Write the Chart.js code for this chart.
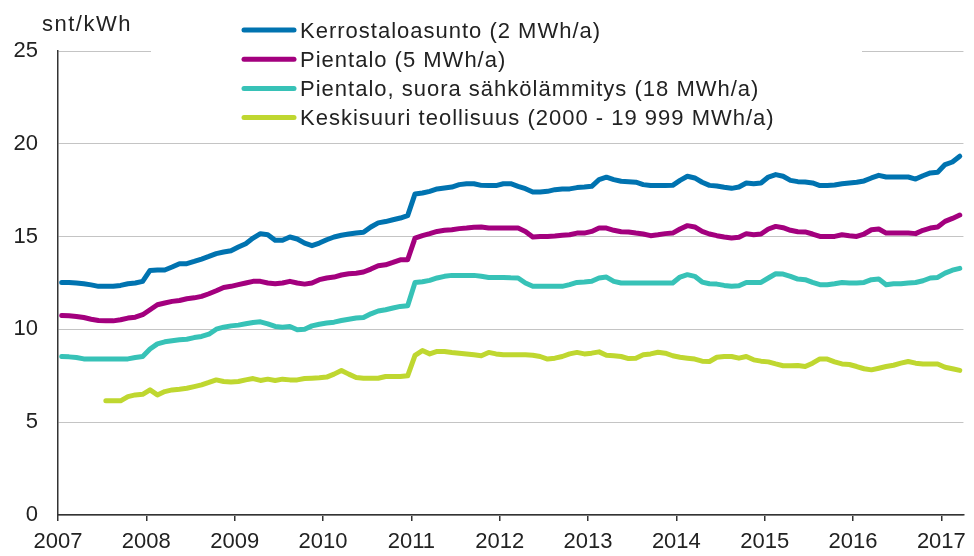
<!DOCTYPE html>
<html>
<head>
<meta charset="utf-8">
<script src="https://cdn.jsdelivr.net/npm/chart.js@4"></script>
<style>
  html, body { margin: 0; padding: 0; background: #fff; }
  #wrap { width: 974px; height: 556px; position: relative; }
</style>
</head>
<body>
<div id="wrap"><canvas id="c" width="974" height="556"></canvas></div>
<script>
// ---- data ----
const unitLabel = 'snt/kWh';
const years = ['2007','2008','2009','2010','2011','2012','2013','2014','2015','2016','2017'];
const seriesNames = [
  'Kerrostaloasunto (2 MWh/a)',
  'Pientalo (5 MWh/a)',
  'Pientalo, suora sähkölämmitys (18 MWh/a)',
  'Keskisuuri teollisuus (2000 - 19 999 MWh/a)'
];
const seriesColors = ['#0073b0', '#a3007e', '#37c2b7', '#bfd730'];

// monthly categories 2007M01 ... 2017M03
const months = [];
for (let y = 2007; y <= 2017; y++) {
  for (let m = 1; m <= 12; m++) {
    if (y === 2017 && m > 3) break;
    months.push(y + 'M' + String(m).padStart(2, '0'));
  }
}

const kerrostalo = [
  12.53,12.53,12.5,12.46,12.4,12.32,12.32,12.32,12.37,12.46,12.5,12.59,
  13.18,13.2,13.2,13.36,13.54,13.54,13.66,13.79,13.93,14.08,14.17,14.24,
  14.44,14.62,14.92,15.16,15.1,14.8,14.8,14.98,14.87,14.65,14.51,14.65,
  14.83,14.98,15.07,15.14,15.19,15.23,15.52,15.74,15.81,15.91,16.0,16.13,
  17.3,17.35,17.44,17.57,17.62,17.67,17.8,17.85,17.85,17.76,17.75,17.75,
  17.85,17.85,17.71,17.58,17.4,17.4,17.44,17.53,17.57,17.57,17.64,17.67,
  17.71,18.07,18.2,18.07,17.98,17.96,17.93,17.8,17.75,17.75,17.75,17.76,
  18.03,18.25,18.16,17.93,17.76,17.73,17.66,17.6,17.67,17.89,17.85,17.89,
  18.21,18.34,18.25,18.03,17.96,17.94,17.89,17.75,17.75,17.78,17.85,17.89,
  17.93,18.0,18.16,18.3,18.21,18.21,18.21,18.21,18.1,18.28,18.43,18.47,
  18.88,19.02,19.33
];
const pientalo = [
  10.75,10.73,10.7,10.64,10.55,10.48,10.46,10.46,10.52,10.61,10.66,10.79,
  11.06,11.33,11.42,11.51,11.56,11.65,11.7,11.78,11.92,12.08,12.26,12.32,
  12.41,12.5,12.59,12.59,12.5,12.46,12.5,12.59,12.5,12.44,12.5,12.68,
  12.77,12.82,12.93,13.0,13.03,13.09,13.25,13.43,13.48,13.61,13.75,13.75,
  14.92,15.05,15.16,15.28,15.34,15.37,15.43,15.46,15.5,15.52,15.46,15.46,
  15.46,15.46,15.46,15.28,14.98,15.01,15.01,15.03,15.07,15.1,15.19,15.19,
  15.28,15.46,15.46,15.34,15.26,15.25,15.19,15.14,15.05,15.1,15.16,15.19,
  15.41,15.59,15.52,15.28,15.14,15.05,14.98,14.92,14.96,15.16,15.1,15.14,
  15.41,15.55,15.48,15.34,15.26,15.25,15.14,15.01,15.01,15.01,15.1,15.05,
  15.01,15.14,15.37,15.41,15.19,15.19,15.19,15.19,15.16,15.34,15.46,15.52,
  15.82,15.98,16.16
];
const sahkolammitys = [
  8.54,8.52,8.49,8.41,8.4,8.4,8.4,8.4,8.4,8.41,8.49,8.54,
  8.94,9.22,9.33,9.39,9.44,9.47,9.56,9.62,9.74,10.01,10.12,10.19,
  10.23,10.3,10.37,10.41,10.3,10.16,10.12,10.16,9.98,10.01,10.19,10.28,
  10.34,10.39,10.48,10.55,10.61,10.64,10.84,10.99,11.06,11.15,11.24,11.27,
  12.53,12.57,12.64,12.77,12.86,12.91,12.91,12.91,12.91,12.86,12.8,12.8,
  12.8,12.78,12.77,12.5,12.32,12.32,12.32,12.32,12.32,12.41,12.53,12.55,
  12.59,12.77,12.82,12.59,12.5,12.5,12.5,12.5,12.5,12.5,12.5,12.5,
  12.82,12.95,12.86,12.55,12.46,12.44,12.37,12.32,12.35,12.53,12.53,12.53,
  12.77,13.0,12.98,12.86,12.71,12.68,12.53,12.41,12.41,12.46,12.53,12.5,
  12.5,12.53,12.68,12.71,12.41,12.46,12.46,12.5,12.53,12.62,12.77,12.8,
  13.03,13.19,13.29
];
const teollisuus = [
  null,null,null,null,null,null,6.15,6.15,6.15,6.38,6.47,6.5,
  6.74,6.47,6.65,6.74,6.78,6.83,6.92,7.01,7.14,7.28,7.19,7.16,
  7.19,7.28,7.35,7.25,7.32,7.25,7.32,7.28,7.28,7.35,7.37,7.39,
  7.43,7.59,7.79,7.59,7.41,7.37,7.37,7.37,7.46,7.46,7.46,7.5,
  8.6,8.86,8.68,8.81,8.81,8.76,8.72,8.68,8.63,8.58,8.76,8.68,
  8.63,8.63,8.63,8.63,8.61,8.54,8.4,8.45,8.54,8.68,8.76,8.68,
  8.72,8.79,8.61,8.58,8.54,8.43,8.45,8.63,8.68,8.77,8.72,8.58,
  8.5,8.45,8.4,8.29,8.27,8.5,8.54,8.54,8.45,8.54,8.36,8.29,
  8.25,8.14,8.04,8.04,8.05,8.0,8.18,8.41,8.4,8.25,8.14,8.11,
  8.0,7.88,7.82,7.91,8.0,8.07,8.18,8.27,8.18,8.14,8.14,8.14,
  7.96,7.88,7.79
];
const yTicks = [0, 5, 10, 15, 20, 25];

// ---- chart ----
const FONT = '"Liberation Sans", Arial, Helvetica, sans-serif';
Chart.defaults.font.family = FONT;
Chart.defaults.color = '#222';

const allSeries = [kerrostalo, pientalo, sahkolammitys, teollisuus];
// each monthly value is placed in the middle of its month slot
const datasets = allSeries.map((vals, i) => ({
  label: seriesNames[i],
  data: months.map((m, j) => ({ x: j + 0.5, y: vals[j] })),
  borderColor: seriesColors[i],
  backgroundColor: seriesColors[i],
  borderWidth: 5,
  pointRadius: 0,
  tension: 0,
  borderCapStyle: 'round',
  borderJoinStyle: 'round',
  spanGaps: false,
  order: 4 - i
}));

const overlay = {
  id: 'overlay',
  afterDraw(chart) {
    const ctx = chart.ctx;
    ctx.save();
    // legend box (white) hides the top gridline behind it
    ctx.fillStyle = '#fff';
    ctx.fillRect(151, 8, 711, 128);
    ctx.fillStyle = '#222';
    ctx.font = '22px ' + FONT;
    ctx.textBaseline = 'alphabetic';
    ctx.textAlign = 'left';
    try { ctx.letterSpacing = '1.5px'; } catch (e) {}
    ctx.fillText(unitLabel, 42, 31);
    try { ctx.letterSpacing = '1px'; } catch (e) {}
    chart.data.datasets.forEach((ds, i) => {
      const y = 30 + i * 29.2;
      ctx.strokeStyle = ds.borderColor;
      ctx.lineWidth = 5;
      ctx.lineCap = 'round';
      ctx.beginPath();
      ctx.moveTo(244, y);
      ctx.lineTo(294, y);
      ctx.stroke();
      ctx.fillStyle = '#222';
      ctx.fillText(ds.label, 300, y + 7.5);
    });
    ctx.restore();
  }
};

new Chart(document.getElementById('c'), {
  type: 'line',
  data: { datasets },
  plugins: [overlay],
  options: {
    responsive: false,
    animation: false,
    events: [],
    layout: { padding: { left: 0, right: 7, top: 51, bottom: 0 } },
    plugins: { legend: { display: false }, tooltip: { enabled: false }, title: { display: false } },
    scales: {
      x: {
        type: 'linear',
        min: 0,
        max: months.length,
        afterBuildTicks: (scale) => {
          scale.ticks = years.map((y, i) => ({ value: i * 12 }));
        },
        afterFit: (scale) => { scale.height = 41; },
        ticks: {
          autoSkip: false,
          maxRotation: 0,
          padding: 8,
          font: { size: 22 },
          color: '#222',
          callback: (v) => years[Math.round(v / 12)]
        },
        grid: {
          display: true,
          drawOnChartArea: false,
          drawTicks: true,
          tickLength: 6,
          color: '#333',
          lineWidth: 1.5
        },
        border: { display: true, color: '#333', width: 1.5 }
      },
      y: {
        min: 0,
        max: 25,
        afterBuildTicks: (scale) => {
          scale.ticks = yTicks.map(v => ({ value: v }));
        },
        afterFit: (scale) => { scale.width = 58; },
        ticks: {
          padding: 20,
          font: { size: 22 },
          color: '#222'
        },
        grid: {
          color: '#c4c4c4',
          lineWidth: 1,
          drawTicks: false
        },
        border: { display: true, color: '#333', width: 1.5 }
      }
    }
  }
});
</script>
</body>
</html>
